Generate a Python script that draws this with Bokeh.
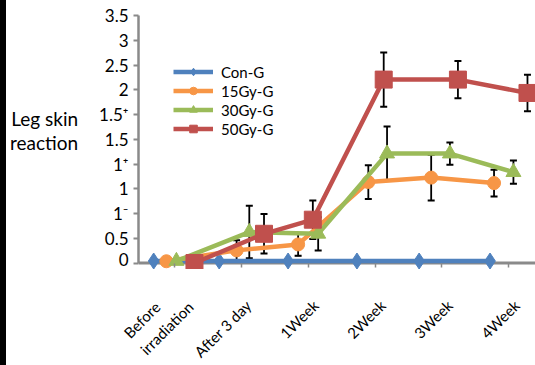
import math
from bokeh.plotting import figure
from bokeh.layouts import row, column
from bokeh.models import (ColumnDataSource, Range1d, FixedTicker, Legend, LegendItem,
                          Whisker, TeeHead, Span, Div, LinearAxis)
from bokeh.core.properties import value
from bokeh.embed import file_html
from bokeh.resources import INLINE

# ---- data ----
categories = ["Before\nirradiation", "After 3 day", "1Week", "2Week", "3Week", "4Week"]
# y tick labels of the (equally spaced) ordinal scale, index 0..10
y_tick_labels = ["0", "0.5", "1\u207b", "1", "1\u207a", "1.5", "1.5\u207a", "2", "2.5", "3", "3.5"]
y_title = "Leg skin\nreaction"

series_names = ["Con-G", "15Gy-G", "30Gy-G", "50Gy-G"]

con_x = [-0.31, 0.67, 1.70, 2.73, 3.66, 4.72]
con_y = [0.08, 0.08, 0.08, 0.08, 0.08, 0.08]
con_e = [0, 0, 0, 0, 0, 0]

g15_x = [-0.12, 0.93, 1.85, 2.90, 3.84, 4.78]
g15_y = [0.07, 0.51, 0.75, 3.27, 3.45, 3.23]
g15_e = [0.0, 0.41, 0.46, 0.68, 0.92, 0.54]

g30_x = [0.03, 1.12, 2.15, 3.18, 4.12, 5.07]
g30_y = [0.08, 1.25, 1.18, 4.42, 4.42, 3.67]
g30_e = [0.0, 1.06, 0.67, 1.10, 0.45, 0.47]

g50_x = [0.30, 1.34, 2.07, 3.13, 4.24, 5.28]
g50_y = [0.0, 1.18, 1.75, 7.41, 7.41, 6.87]
g50_e = [0.0, 0.80, 0.78, 1.10, 0.75, 0.74]

# ---- styles / layout ----
colors = ["#4F81BD", "#F79646", "#9BBB59", "#C0504D"]
markers = ["diamond", "circle", "triangle", "square"]
msizes = [16, 13, 15, 17]

FONT = "Lato"
AXIS_GRAY = "#8A8A8A"
W, H = 535, 365
BAR_W = 6
LEFT = 137 - BAR_W          # border left of the plotting frame
TOP = 15
MAIN_H = 269                # height of the plotting figure (frame bottom)
STRIP_H = H - MAIN_H        # strip for the rotated category labels
XS, XE = -0.537, 5.40
Y_ZERO_PX = 262.5           # page y of value 0
PPU_Y = (Y_ZERO_PX - TOP) / 10.0
YS = -(MAIN_H - Y_ZERO_PX) / PPU_Y
PPU_X = (W - BAR_W - LEFT) / (XE - XS)

p = figure(width=W - BAR_W, height=MAIN_H, x_range=Range1d(XS, XE),
           y_range=Range1d(YS, 10), x_axis_location=None,
           output_backend="svg", toolbar_location=None,
           min_border_left=LEFT, min_border_right=0, min_border_top=TOP,
           min_border_bottom=0)
p.outline_line_color = None
p.xgrid.visible = False
p.ygrid.visible = False
p.background_fill_color = "white"
p.border_fill_color = "white"

# y axis
ya = p.yaxis[0]
ya.ticker = FixedTicker(ticks=list(range(len(y_tick_labels))))
ya.major_label_overrides = {i: t for i, t in enumerate(y_tick_labels)}
ya.bounds = (0, 10)
ya.axis_line_color = AXIS_GRAY
ya.axis_line_width = 2.5
ya.major_tick_line_color = AXIS_GRAY
ya.major_tick_line_width = 2
ya.major_tick_out = 5
ya.major_tick_in = 0
ya.minor_tick_line_color = None
ya.major_label_standoff = 5
ya.major_label_text_font = FONT
ya.major_label_text_font_size = "17px"
ya.major_label_text_color = "black"
ya.axis_label = y_title + "\n "
ya.axis_label_text_font = FONT
ya.axis_label_text_font_size = "19px"
ya.axis_label_text_font_style = "normal"
ya.axis_label_text_color = "black"
ya.axis_label_text_line_height = 1.05
ya.axis_label_standoff = 18
if "axis_label_orientation" in ya.properties():
    ya.axis_label_orientation = "horizontal"

# category tick marks on the zero line
xa = LinearAxis(fixed_location=0,
                ticker=FixedTicker(ticks=[], minor_ticks=list(range(len(categories)))),
                axis_line_color=None, major_tick_line_color=None,
                minor_tick_line_color=AXIS_GRAY, minor_tick_line_width=1.5,
                minor_tick_in=4, minor_tick_out=0)
p.add_layout(xa, "above")

p.add_layout(Span(location=0, dimension="width", line_color=AXIS_GRAY, line_width=3,
                  level="underlay"))

all_x = [con_x, g15_x, g30_x, g50_x]
all_y = [con_y, g15_y, g30_y, g50_y]
all_e = [con_e, g15_e, g30_e, g50_e]

items = []
for name, xs, ys, es, c, m, s in zip(series_names, all_x, all_y, all_e, colors, markers, msizes):
    src = ColumnDataSource(dict(x=xs, y=ys))
    lr = p.line("x", "y", source=src, line_color=c, line_width=4.5)
    sr = p.scatter("x", "y", source=src, marker=m, size=s, fill_color=c, line_color=c)
    if any(e > 0 for e in es):
        wsrc = ColumnDataSource(dict(x=[x for x, e in zip(xs, es) if e > 0],
                                     up=[y + e for y, e in zip(ys, es) if e > 0],
                                     lo=[y - e for y, e in zip(ys, es) if e > 0]))
        w = Whisker(base="x", upper="up", lower="lo", source=wsrc, dimension="height",
                    line_color="black", line_width=1.8,
                    upper_head=TeeHead(size=7, line_color="black", line_width=2),
                    lower_head=TeeHead(size=7, line_color="black", line_width=2))
        p.add_layout(w)
    items.append(LegendItem(label=name, renderers=[lr, sr]))

legend = Legend(items=items, location=(35, 131), padding=0, margin=0,
                glyph_width=40, glyph_height=19, label_height=19, spacing=0,
                label_standoff=8, label_text_font=FONT, label_text_font_size="15px",
                label_text_color="black", border_line_color=None,
                background_fill_alpha=0)
p.add_layout(legend)

# ---- strip with the rotated category labels (same x scale) ----
strip = figure(width=W - BAR_W, height=STRIP_H,
               x_range=Range1d(XS - LEFT / PPU_X, XE), y_range=Range1d(-1, 0),
               x_axis_location=None, y_axis_location=None,
               output_backend="svg", toolbar_location=None,
               min_border=0, min_border_left=0, min_border_right=0,
               min_border_top=0, min_border_bottom=0)
strip.outline_line_color = None
strip.xgrid.visible = False
strip.ygrid.visible = False
strip.background_fill_color = "white"
strip.border_fill_color = "white"

# keep each figure's frame where it is set (no frame alignment inside the column)
for fig in (p, strip):
    if "frame_align" in fig.properties():
        fig.frame_align = False

cat_idx = list(range(len(categories)))
single = [(i, c) for i, c in zip(cat_idx, categories) if "\n" not in c]
multi = [(i, c) for i, c in zip(cat_idx, categories) if "\n" in c]
common = dict(angle=math.pi / 4, text_font=value(FONT), text_font_size="15px",
              text_color="black", text_baseline="middle", text_line_height=1.3)
strip.text(x=[i for i, _ in single], y=[0] * len(single), text=[c for _, c in single],
           text_align="right", x_offset=8, y_offset=33, **common)
if multi:
    strip.text(x=[i for i, _ in multi], y=[0] * len(multi), text=[c for _, c in multi],
               text_align="left", x_offset=-39, y_offset=74, **common)

bar = Div(text="", width=BAR_W, height=H, margin=0,
          styles={"background-color": "black", "width": f"{BAR_W}px", "height": f"{H}px"})
layout = row(bar, column(p, strip, spacing=0), spacing=0)

open("out.html", "w").write(file_html(layout, INLINE))
